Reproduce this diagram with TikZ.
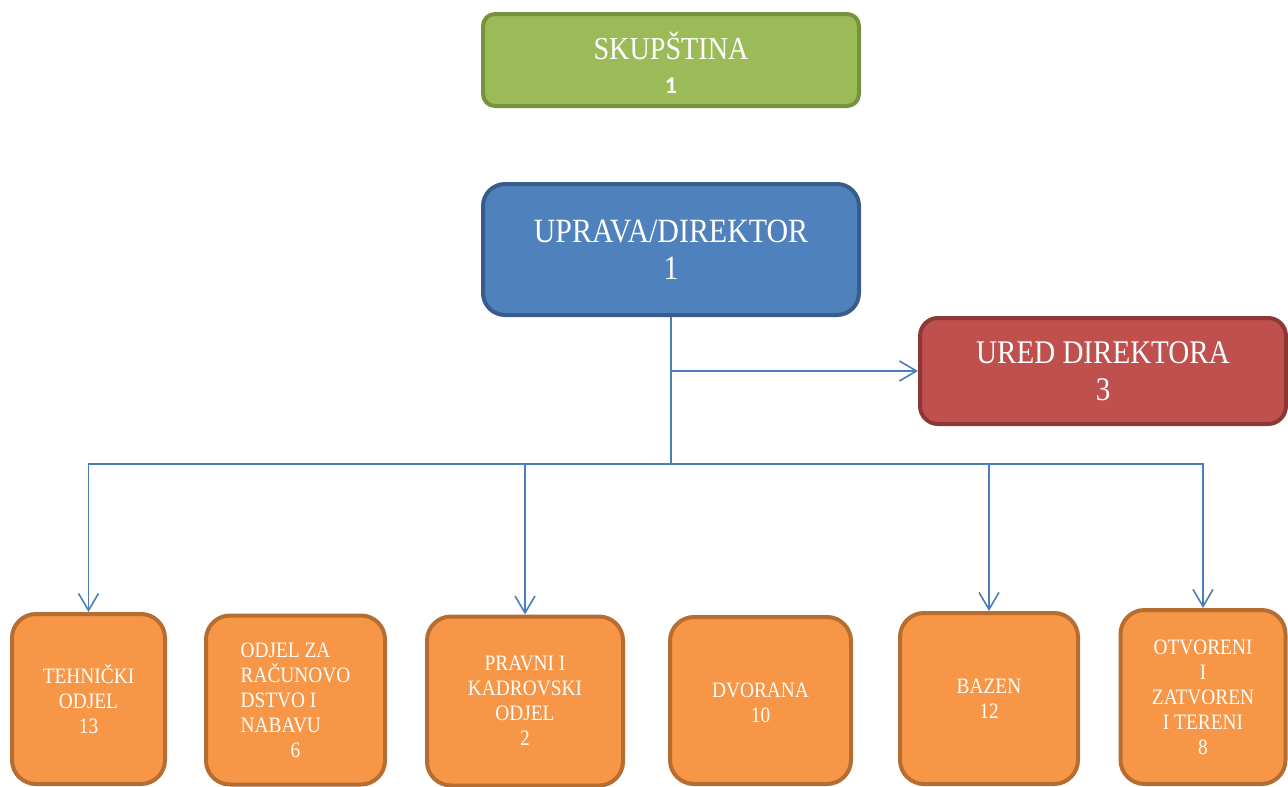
\documentclass[tikz,border=0pt]{standalone}
\usepackage{fontspec}
\setmainfont{Liberation Serif}[FakeStretch=0.88]
\newfontfamily\numfont{Carlito}[Numbers=Lining]
\usetikzlibrary{arrows.meta}
\definecolor{gfill}{HTML}{9BBB59}
\definecolor{gdraw}{HTML}{76923C}
\definecolor{bfill}{HTML}{4F81BD}
\definecolor{bdraw}{HTML}{385D8A}
\definecolor{rfill}{HTML}{C0504D}
\definecolor{rdraw}{HTML}{8C3836}
\definecolor{ofill}{HTML}{F79646}
\definecolor{odraw}{HTML}{B66D31}
\definecolor{conn}{HTML}{4A7EBB}
\tikzset{
  box/.style={rectangle, line width=4pt, inner sep=0pt, text=white, align=center, anchor=center},
  topbox/.style={box, font=\fontsize{34}{37}\selectfont},
  lowbox/.style={box, fill=ofill, draw=odraw, rounded corners=24pt, font=\fontsize{22}{25}\selectfont},
  link/.style={draw=conn, line width=1.6pt},
  arr/.style={link, -{Straight Barb[length=17pt,width=20pt,line width=1.6pt]}}
}
\begin{document}
\begin{tikzpicture}[x=1pt,y=-1pt]
\useasboundingbox (0,0) rectangle (1288,787);
\node[topbox, fill=gfill, draw=gdraw, rounded corners=12pt, minimum width=376pt, minimum height=92pt] (sk) at (671,60)
  {\raisebox{-14.5pt}[0pt][0pt]{\begin{tabular}{@{}c@{}}\fontsize{32}{37}\selectfont SKUPŠTINA\\[-3pt]{\numfont\bfseries\fontsize{24}{26}\selectfont 1}\end{tabular}}};
\node[topbox, fill=bfill, draw=bdraw, rounded corners=22pt, minimum width=376pt, minimum height=131pt] (up) at (671,249.5)
  {UPRAVA/DIREKTOR\\1};
\node[topbox, fill=rfill, draw=rdraw, rounded corners=18pt, minimum width=366pt, minimum height=106pt, font=\fontsize{33}{37}\selectfont] (ur) at (1103,371)
  {URED DIREKTORA\\3};
\node[lowbox, minimum width=153pt, minimum height=170pt] (teh) at (88.5,699) {TEHNIČKI\\ODJEL\\13};
\node[lowbox, minimum width=179pt, minimum height=169pt, align=left] (odj) at (295.5,700) {ODJEL ZA\\RAČUNOVO\\DSTVO I\\NABAVU\\\hspace*{50pt}6};
\node[lowbox, minimum width=196pt, minimum height=169pt] (pra) at (525,701) {PRAVNI I\\KADROVSKI\\ODJEL\\2};
\node[lowbox, minimum width=181pt, minimum height=167pt] (dvo) at (760.5,700.5) {\raisebox{-9.5pt}[0pt][0pt]{\begin{tabular}{@{}c@{}}DVORANA\\10\end{tabular}}};
\node[lowbox, minimum width=178pt, minimum height=171pt] (baz) at (989,698.5) {BAZEN\\12};
\node[lowbox, minimum width=165pt, minimum height=174pt] (otv) at (1203,697) {OTVORENI\\I\\ZATVOREN\\I TERENI\\8};
\coordinate (k) at (up.south |- ur.west);
\coordinate (j) at ([yshift=-147pt]up.south);
\draw[link] (up.south) -- (j);
\draw[arr] (k) -- (ur.west);
\draw[arr] (j) -| (teh.north);
\draw[arr] (j) -| (pra.north);
\draw[arr] (j) -| (baz.north);
\draw[arr] (j) -| (otv.north);
\end{tikzpicture}
\end{document}
